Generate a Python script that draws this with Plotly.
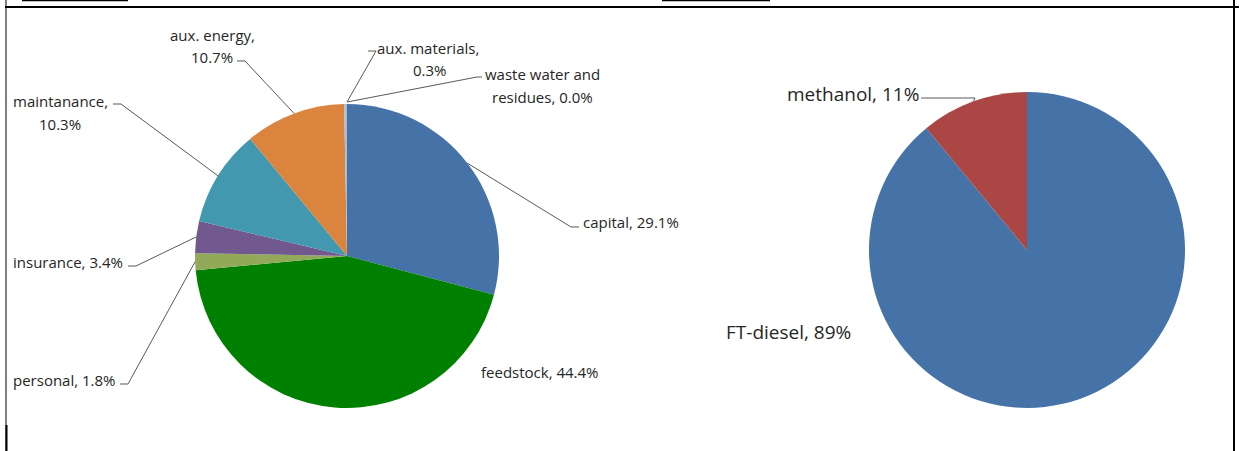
import math
import plotly.graph_objects as go

# ---- data ----
cost_labels = ["capital", "feedstock", "personal", "insurance", "maintanance",
               "aux. energy", "aux. materials", "waste water and residues"]
cost_values = [29.1, 44.4, 1.8, 3.4, 10.3, 10.7, 0.3, 0.0]
cost_colors = ["#4572A7", "#008000", "#93A95A", "#71588F", "#4198AF",
               "#DB843D", "#A9BCD8", "#C0C0C0"]

prod_labels = ["FT-diesel", "methanol"]
prod_values = [89, 11]
prod_colors = ["#4572A7", "#AA4643"]

W, H = 1239, 451
TXT = "#262626"
LINE = "#595959"
FONT = "Open Sans"
SMALL = 15
BIG = 19

def px(x):
    return x / W

def py(y):
    return 1 - y / H

# pie geometry (pixels)
C1 = (347, 256); R1 = 152
C2 = (1027, 250); R2 = 158

def edge_point(values, idx, center, r):
    tot = sum(values)
    cum = sum(values[:idx]) + values[idx] / 2
    ang = 2 * math.pi * cum / tot  # clockwise from 12 o'clock
    return center[0] + r * math.sin(ang), center[1] - r * math.cos(ang)

fig = go.Figure()
fig.add_trace(go.Pie(
    labels=cost_labels, values=cost_values, sort=False, direction="clockwise",
    rotation=0, textinfo="none", hoverinfo="label+percent",
    marker=dict(colors=cost_colors, line=dict(width=0)),
    domain=dict(x=[px(C1[0] - R1), px(C1[0] + R1)], y=[py(C1[1] + R1), py(C1[1] - R1)]),
    showlegend=False,
))
fig.add_trace(go.Pie(
    labels=prod_labels, values=prod_values, sort=False, direction="clockwise",
    rotation=0, textinfo="none", hoverinfo="label+percent",
    marker=dict(colors=prod_colors, line=dict(width=0)),
    domain=dict(x=[px(C2[0] - R2), px(C2[0] + R2)], y=[py(C2[1] + R2), py(C2[1] - R2)]),
    showlegend=False,
))

annotations = []
shapes = []

def text(s, x, y, anchor="left", size=SMALL):
    annotations.append(dict(text=s, x=px(x), y=py(y), xref="paper", yref="paper",
                            xanchor=anchor, yanchor="middle", showarrow=False,
                            font=dict(family=FONT, size=size, color=TXT)))

def path(points, color=LINE, width=1):
    d = "M " + " L ".join(f"{px(x)},{py(y)}" for x, y in points)
    shapes.append(dict(type="path", path=d, xref="paper", yref="paper",
                       line=dict(color=color, width=width)))

# ---- cost pie labels ----
text(f"capital, {cost_values[0]}%", 581, 222)
path([edge_point(cost_values, 0, C1, R1), (571, 227), (579, 227)])

text(f"feedstock, {cost_values[1]}%", 479, 372)

text(f"personal, {cost_values[2]}%", 11, 380)
path([(120, 384), (128, 384), edge_point(cost_values, 2, C1, R1)])

text(f"insurance, {cost_values[3]}%", 11, 262)
path([(128, 266), (136, 266), edge_point(cost_values, 3, C1, R1)])

text("maintanance,", 60, 101, "center")
text(f"{cost_values[4]}%", 60, 124, "center")
path([(113, 104), (121, 104), edge_point(cost_values, 4, C1, R1)])

text("aux. energy,", 212, 35, "center")
text(f"{cost_values[5]}%", 212, 57, "center")
path([(237, 61), (245, 61), edge_point(cost_values, 5, C1, R1)])

text("aux. materials,", 428, 48, "center")
text(f"{cost_values[6]}%", 430, 70, "center")
path([(368, 51), (376, 51), (347, 102)])

text("waste water and", 542, 74, "center")
text(f"residues, {cost_values[7]:.1f}%", 542, 97, "center")
path([(347, 102), (477, 77), (482, 77)])

# ---- product pie labels ----
text(f"methanol, {prod_values[1]}%", 785, 94, size=BIG)
mx, my = edge_point(prod_values, 1, C2, R2)
path([(921, 98), (975, 98), (mx, my)])

text(f"FT-diesel, {prod_values[0]}%", 724, 332, size=BIG)

# ---- frame lines ----
shapes.append(dict(type="line", xref="paper", yref="paper", x0=px(5), x1=px(1239),
                   y0=py(7), y1=py(7), line=dict(color="black", width=2)))
shapes.append(dict(type="line", xref="paper", yref="paper", x0=px(6), x1=px(6),
                   y0=py(0), y1=py(451), line=dict(color="black", width=1)))
shapes.append(dict(type="line", xref="paper", yref="paper", x0=px(6.5), x1=px(6.5),
                   y0=py(425), y1=py(451), line=dict(color="black", width=2)))
shapes.append(dict(type="line", xref="paper", yref="paper", x0=px(1234), x1=px(1234),
                   y0=py(0), y1=py(451), line=dict(color="black", width=2)))
shapes.append(dict(type="line", xref="paper", yref="paper", x0=px(22), x1=px(128),
                   y0=py(0.5), y1=py(0.5), line=dict(color="black", width=1.5)))
shapes.append(dict(type="line", xref="paper", yref="paper", x0=px(662), x1=px(770),
                   y0=py(0.5), y1=py(0.5), line=dict(color="black", width=1.5)))

fig.update_layout(
    width=W, height=H,
    margin=dict(l=0, r=0, t=0, b=0),
    paper_bgcolor="white", plot_bgcolor="white",
    annotations=annotations, shapes=shapes,
    font=dict(family=FONT, color=TXT),
)

fig.write_html("out.html", config={"displayModeBar": False},
               post_script="document.body.style.margin='0';document.body.style.overflow='hidden';")
